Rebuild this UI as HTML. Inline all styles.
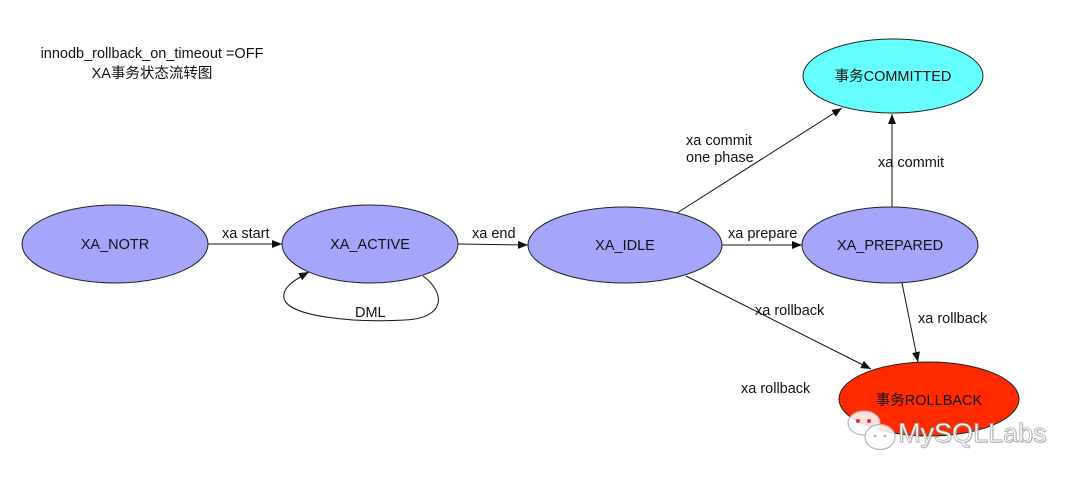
<!DOCTYPE html>
<html>
<head>
<meta charset="utf-8">
<style>
html,body{margin:0;padding:0;background:#fff;}
svg{display:block;}
text{font-family:"Liberation Sans","Noto Sans CJK SC",sans-serif;fill:#111;}
</style>
</head>
<body>
<svg width="1080" height="484" viewBox="0 0 1080 484" xmlns="http://www.w3.org/2000/svg">
<defs>
<marker id="ah" markerWidth="10" markerHeight="8" refX="10" refY="4" orient="auto" markerUnits="userSpaceOnUse">
<path d="M0,0 L10,4 L0,8 Z" fill="#111"/>
</marker>
</defs>
<rect width="1080" height="484" fill="#fff"/>

<!-- title -->
<text x="152" y="58" font-size="14.5" text-anchor="middle">innodb_rollback_on_timeout =OFF</text>
<text x="152" y="78" font-size="14.5" text-anchor="middle">XA事务状态流转图</text>

<!-- ellipses -->
<ellipse cx="115" cy="244" rx="93" ry="39" fill="#a5a5fb" stroke="#222" stroke-width="1"/>
<ellipse cx="370" cy="244" rx="88" ry="39" fill="#a5a5fb" stroke="#222" stroke-width="1"/>
<ellipse cx="625" cy="245" rx="97" ry="38" fill="#a5a5fb" stroke="#222" stroke-width="1"/>
<ellipse cx="890" cy="245" rx="88" ry="38" fill="#a5a5fb" stroke="#222" stroke-width="1"/>
<ellipse cx="893" cy="76" rx="90" ry="37" fill="#66ffff" stroke="#222" stroke-width="1"/>
<ellipse cx="929" cy="399" rx="90" ry="37" fill="#ff2a00" stroke="#222" stroke-width="1"/>

<!-- node labels -->
<text x="115" y="249" font-size="14.5" text-anchor="middle">XA_NOTR</text>
<text x="370" y="249" font-size="14.5" text-anchor="middle">XA_ACTIVE</text>
<text x="625" y="250" font-size="14.5" text-anchor="middle">XA_IDLE</text>
<text x="890" y="250" font-size="14.5" text-anchor="middle">XA_PREPARED</text>
<text x="893" y="81" font-size="14.5" text-anchor="middle">事务COMMITTED</text>
<text x="929" y="405" font-size="14.5" text-anchor="middle">事务ROLLBACK</text>

<!-- edges -->
<g stroke="#111" stroke-width="1" fill="none">
<line x1="208" y1="244" x2="282" y2="244" marker-end="url(#ah)"/>
<line x1="458" y1="244" x2="528" y2="245" marker-end="url(#ah)"/>
<line x1="722" y1="245" x2="802" y2="245" marker-end="url(#ah)"/>
<line x1="677" y1="213" x2="842" y2="108" marker-end="url(#ah)"/>
<line x1="892" y1="207" x2="892" y2="114" marker-end="url(#ah)"/>
<line x1="686" y1="276" x2="871" y2="369" marker-end="url(#ah)"/>
<line x1="902" y1="283" x2="918" y2="362" marker-end="url(#ah)"/>
<path d="M423,276 C445,292 447,318 405,320 C350,323 287,316 284,298 C282,288 294,280 309,272" marker-end="url(#ah)"/>
</g>

<!-- edge labels -->
<text x="222" y="238" font-size="14.5">xa start</text>
<text x="472" y="238" font-size="14.5">xa end</text>
<text x="728" y="238" font-size="14.5">xa prepare</text>
<text x="686" y="145" font-size="14.5">xa commit</text>
<text x="686" y="162" font-size="14.5">one phase</text>
<text x="878" y="167" font-size="14.5">xa commit</text>
<text x="755" y="315" font-size="14.5">xa rollback</text>
<text x="918" y="323" font-size="14.5">xa rollback</text>
<text x="741" y="393" font-size="14.5">xa rollback</text>
<text x="355" y="317" font-size="14.5">DML</text>

<!-- watermark -->
<g stroke="#b5b5b5" stroke-width="1.2" fill-opacity="0.85">
<ellipse cx="864" cy="423" rx="16" ry="12" fill="#fff"/>
<ellipse cx="880" cy="437" rx="15" ry="12.5" fill="#fff"/>
</g>
<circle cx="858" cy="421" r="2" fill="#d33"/>
<circle cx="869" cy="421" r="2" fill="#d33"/>
<circle cx="875" cy="436" r="1.5" fill="#bbb"/>
<circle cx="885" cy="436" r="1.5" fill="#bbb"/>
<text x="899" y="443" font-size="27" style="fill:#999" opacity="0.5">MySQLLabs</text>
<text x="898" y="442" font-size="27" style="fill:#fff" stroke="#aaa" stroke-width="0.8">MySQLLabs</text>
</svg>
</body>
</html>
